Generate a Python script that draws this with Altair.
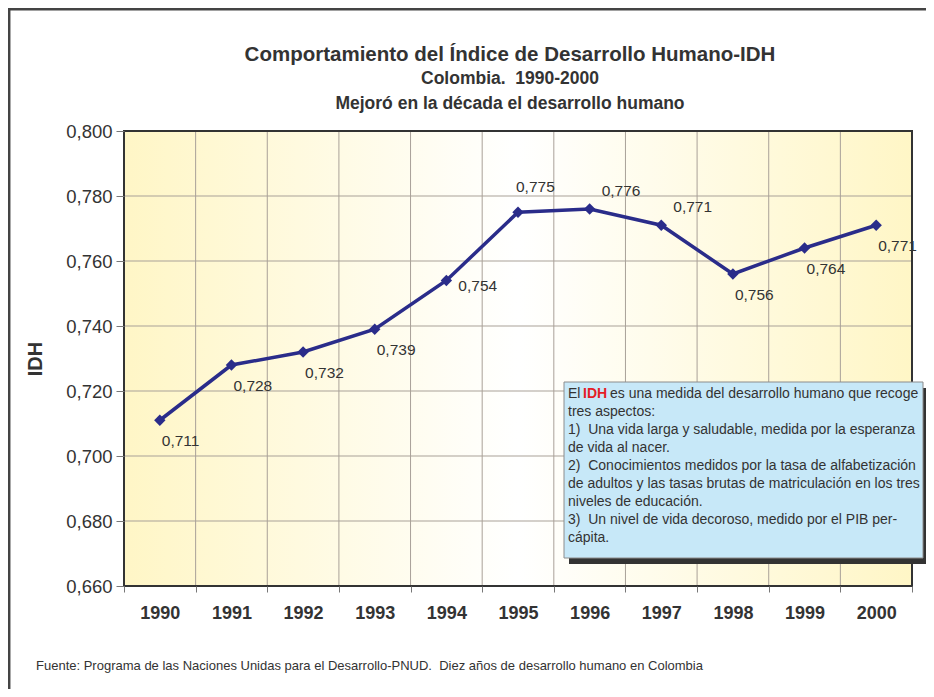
import altair as alt
import pandas as pd

NB = "\u00a0"

# ---------------- data ----------------
years = ["1990", "1991", "1992", "1993", "1994", "1995", "1996", "1997", "1998", "1999", "2000"]
idh = [0.711, 0.728, 0.732, 0.739, 0.754, 0.775, 0.776, 0.771, 0.756, 0.764, 0.771]
label_pos = ["abajo", "abajo", "abajo", "abajo", "derecha", "arriba",
             "arriba_der", "arriba_der", "abajo", "abajo", "abajo"]
y_ticks = [0.660, 0.680, 0.700, 0.720, 0.740, 0.760, 0.780, 0.800]

title_main = "Comportamiento del Índice de Desarrollo Humano-IDH"
title_sub1 = "Colombia." + NB + " 1990-2000"
title_sub2 = "Mejoró en la década el desarrollo humano"
source_text = ("Fuente: Programa de las Naciones Unidas para el Desarrollo-PNUD." + NB + " "
               "Diez años de desarrollo humano en Colombia")
note_first_a = "El"
note_first_b = "IDH"
note_first_c = "es una medida del desarrollo humano que recoge"
note_lines = [
    "tres aspectos:",
    "1)" + NB + " Una vida larga y saludable, medida por la esperanza",
    "de vida al nacer.",
    "2)" + NB + " Conocimientos medidos por la tasa de alfabetización",
    "de adultos y las tasas brutas de matriculación en los tres",
    "niveles de educación.",
    "3)" + NB + " Un nivel de vida decoroso, medido por el PIB per-",
    "cápita.",
]

# ---------------- styling ----------------
W, H = 788, 455
FONT = "Liberation Sans"
TXT = "#333333"
LINE_COLOR = "#2A2C8A"
GRID = "#A9A198"

df = pd.DataFrame({"anio": years, "idh": idh, "pos": label_pos})
df["etiqueta"] = [f"{v:.3f}".replace(".", ",") for v in idh]
grid_df = pd.DataFrame({"v": y_ticks})
one = pd.DataFrame({"k": [0]})

x_scale = alt.Scale(domain=years, paddingInner=0, paddingOuter=0)
y_scale = alt.Scale(domain=[0.66, 0.80], zero=False, nice=False)

x_axis = alt.Axis(title=None, tickBand="extent", domain=False, grid=False,
                  labelFont=FONT, labelFontSize=18, labelFontWeight="bold",
                  labelColor=TXT, labelAngle=0, tickColor="#777777", tickSize=6,
                  labelPadding=12, zindex=1)
y_axis = alt.Axis(title="IDH", values=y_ticks, domain=False, grid=False,
                  labelExpr="replace(format(datum.value, '.3f'), '.', ',')",
                  labelFont=FONT, labelFontSize=18.5, labelColor=TXT,
                  tickColor="#777777", tickSize=8, labelPadding=4,
                  titleFont=FONT, titleFontSize=20, titleFontWeight="bold",
                  titleColor=TXT, titlePadding=20, zindex=1)


def X(field="anio:O", **kw):
    return alt.X(field, scale=x_scale, axis=x_axis, **kw)


def Y(field="idh:Q"):
    return alt.Y(field, scale=y_scale, axis=y_axis)


gradient = alt.LinearGradient(
    gradient="linear",
    stops=[alt.GradientStop(color="#FFF6C6", offset=0),
           alt.GradientStop(color="#FFFFFF", offset=0.5),
           alt.GradientStop(color="#FFF6C6", offset=1)],
    x1=0, x2=1, y1=0, y2=0)

bg = alt.Chart(one).mark_rect(fill=gradient).encode(
    x=alt.value(0), x2=alt.value(W), y=alt.value(0), y2=alt.value(H))

hgrid = alt.Chart(grid_df).mark_rule(color=GRID, strokeWidth=1).encode(y=Y("v:Q"))
vgrid = alt.Chart(df).mark_rule(color=GRID, strokeWidth=1).encode(x=X(bandPosition=0))

line = alt.Chart(df).mark_line(color=LINE_COLOR, strokeWidth=3.5).encode(x=X(), y=Y())
pts = alt.Chart(df).mark_point(shape="diamond", filled=True, color=LINE_COLOR,
                               size=130, opacity=1).encode(x=X(), y=Y())


def labels(pos, dx, dy):
    return alt.Chart(df).transform_filter(alt.datum.pos == pos).mark_text(
        align="left", baseline="middle", dx=dx, dy=dy, font=FONT,
        fontSize=15.5, color=TXT).encode(x=X(), y=Y(), text="etiqueta:N")


lab_below = labels("abajo", 2, 21)
lab_right = labels("derecha", 12, 5)
lab_above = labels("arriba", -2, -25)
lab_above_r = labels("arriba_der", 12, -18)

border = alt.Chart(one).mark_rect(fill=None, stroke=TXT, strokeWidth=2).encode(
    x=alt.value(0), x2=alt.value(W), y=alt.value(0), y2=alt.value(H))

# annotation box
BX0, BY0, BX1, BY1 = 440, 251, 799, 427
shadow = alt.Chart(one).mark_rect(fill="#333333").encode(
    x=alt.value(BX0 + 5), x2=alt.value(BX1 + 5), y=alt.value(BY0 + 6), y2=alt.value(BY1 + 6))
box = alt.Chart(one).mark_rect(fill="#C7E8F8", stroke="#8C8C8C", strokeWidth=1).encode(
    x=alt.value(BX0), x2=alt.value(BX1), y=alt.value(BY0), y2=alt.value(BY1))

NF = 14
TY = 267
t1 = alt.Chart(one).mark_text(text=note_first_a, align="left", baseline="alphabetic",
                              font=FONT, fontSize=NF, color=TXT).encode(
    x=alt.value(444), y=alt.value(TY))
t2 = alt.Chart(one).mark_text(text=note_first_b, align="left", baseline="alphabetic",
                              font=FONT, fontSize=NF, fontWeight="bold", color="#E41E26").encode(
    x=alt.value(459), y=alt.value(TY))
t3 = alt.Chart(one).mark_text(text=note_first_c, align="left", baseline="alphabetic",
                              font=FONT, fontSize=NF, color=TXT).encode(
    x=alt.value(486), y=alt.value(TY))
t4 = alt.Chart(one).mark_text(text=note_lines, align="left", baseline="alphabetic",
                              lineHeight=18, font=FONT, fontSize=NF, color=TXT).encode(
    x=alt.value(444), y=alt.value(TY + 18))

# titles
TCX = 386
title1 = alt.Chart(one).mark_text(text=title_main, align="center", baseline="middle",
                                  font=FONT, fontSize=20.5, fontWeight="bold", color=TXT).encode(
    x=alt.value(TCX), y=alt.value(-76))
title2 = alt.Chart(one).mark_text(text=title_sub1, align="center", baseline="middle",
                                  font=FONT, fontSize=17.5, fontWeight="bold", color=TXT).encode(
    x=alt.value(TCX), y=alt.value(-52))
title3 = alt.Chart(one).mark_text(text=title_sub2, align="center", baseline="middle",
                                  font=FONT, fontSize=17.5, fontWeight="bold", color=TXT).encode(
    x=alt.value(TCX), y=alt.value(-27))

source = alt.Chart(one).mark_text(text=source_text, align="left", baseline="middle",
                                  font=FONT, fontSize=13, color=TXT).encode(
    x=alt.value(-88), y=alt.value(535))

frame_top = alt.Chart(one).mark_rule(color="#444444", strokeWidth=2.5).encode(
    x=alt.value(-116), x2=alt.value(820), y=alt.value(-121.8))
frame_left = alt.Chart(one).mark_rule(color="#444444", strokeWidth=2.5).encode(
    x=alt.value(-114.8), y=alt.value(-123), y2=alt.value(570))

chart = alt.layer(
    bg, hgrid, vgrid, line, pts, lab_below, lab_right, lab_above, lab_above_r,
    border, shadow, box, t1, t2, t3, t4, title1, title2, title3, source,
    frame_top, frame_left
).properties(
    width=W, height=H,
    autosize=alt.AutoSizeParams(type="none"),
    padding={"left": 116, "top": 123, "right": 14, "bottom": 103},
).configure_view(stroke=None).configure(background="white")

chart.save("out.html", embed_options={"renderer": "svg", "actions": False})
